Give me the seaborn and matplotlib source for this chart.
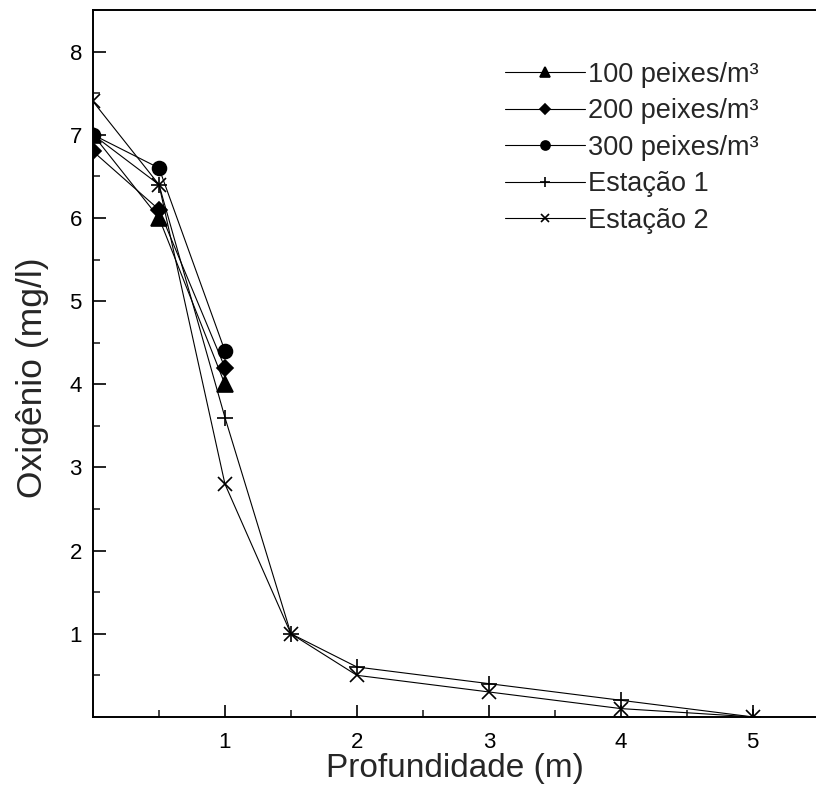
import matplotlib
matplotlib.use("Agg")
import matplotlib.pyplot as plt
import seaborn as sns
import pandas as pd
from matplotlib.ticker import MultipleLocator, FixedLocator

sns.set_style("ticks")
plt.rcParams['font.family'] = ['Liberation Sans', 'DejaVu Sans']

# Data
depth_fish = [0, 0.5, 1]
fish_100 = [7.0, 6.0, 4.0]
fish_200 = [6.8, 6.1, 4.2]
fish_300 = [7.0, 6.6, 4.4]
depth_st = [0, 0.5, 1, 1.5, 2, 3, 4, 5]
estacao_1 = [7.0, 6.4, 3.6, 1.0, 0.6, 0.4, 0.2, 0.0]
estacao_2 = [7.4, 6.4, 2.8, 1.0, 0.5, 0.3, 0.1, 0.0]
labels = ["100 peixes/m³", "200 peixes/m³", "300 peixes/m³", "Estação 1", "Estação 2"]
x_ticks = [1, 2, 3, 4, 5]
y_ticks = [1, 2, 3, 4, 5, 6, 7, 8]

series = [
    (depth_fish, fish_100, labels[0], '^', 11, 7),
    (depth_fish, fish_200, labels[1], 'D', 8.5, 5.5),
    (depth_fish, fish_300, labels[2], 'o', 10, 6.5),
    (depth_st, estacao_1, labels[3], '+', 11, 7),
    (depth_st, estacao_2, labels[4], 'x', 10, 6),
]

fig = plt.figure(figsize=(8.16, 8.01), dpi=100)
ax = fig.add_axes([0.114, 0.105, 0.886, 0.8825])

for xs, ys, lab, mk, ms, lms in series:
    df = pd.DataFrame({"x": xs, "y": ys})
    sns.lineplot(data=df, x="x", y="y", ax=ax, color="black", linewidth=0.8,
                 marker=mk, markersize=ms, markeredgecolor="black",
                 markerfacecolor="black", markeredgewidth=1.2, label=lab)

ax.set_xlim(0, 5.48)
ax.set_ylim(0, 8.5)
ax.xaxis.set_major_locator(FixedLocator(x_ticks))
ax.yaxis.set_major_locator(FixedLocator(y_ticks))
ax.xaxis.set_minor_locator(MultipleLocator(0.5))
ax.yaxis.set_minor_locator(MultipleLocator(0.5))
ax.tick_params(which='major', direction='in', length=9, width=1.2, labelsize=16, colors='black')
ax.tick_params(which='minor', direction='in', length=5, width=1.2)
ax.tick_params(axis='x', which='both', top=False, pad=11)
ax.tick_params(axis='y', which='both', right=False, pad=8)
for s in ['left', 'bottom', 'top']:
    ax.spines[s].set_linewidth(1.4)
    ax.spines[s].set_color('black')
ax.spines['right'].set_visible(False)

ax.set_xlabel("Profundidade (m)", fontsize=24, labelpad=0)
ax.set_ylabel("Oxigênio (mg/l)", fontsize=25.5)
ax.yaxis.set_label_coords(-0.061, 0.48)

h, l = ax.get_legend_handles_labels()
leg = ax.legend(h, l, loc='upper left', bbox_to_anchor=(0.57, 0.927), frameon=False,
                fontsize=19.5, handlelength=2.95, handletextpad=0.1, labelspacing=0.39,
                borderaxespad=0, borderpad=0)
lms_list = [s[5] for s in series]
for line, lms in zip(leg.get_lines(), lms_list):
    line.set_markersize(lms)

fig.savefig("out.png", dpi=100)
